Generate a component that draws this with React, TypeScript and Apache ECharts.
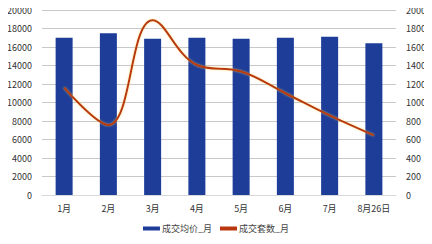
import React, { useEffect, useRef } from "react";
import * as echarts from "echarts";

const categories = ["1月", "2月", "3月", "4月", "5月", "6月", "7月", "8月26日"];
const avgPrice = [17000, 17500, 16900, 17000, 16900, 17000, 17100, 16400];
const dealCount = [1160, 757, 1890, 1405, 1335, 1100, 860, 645];
const leftTicks = { min: 0, max: 20000, interval: 2000 };
const rightTicks = { min: 0, max: 2000, interval: 200 };

export default function App() {
  const ref = useRef<HTMLDivElement>(null);
  useEffect(() => {
    if (!ref.current) return;
    const chart = echarts.init(ref.current, null, { renderer: "svg" });
    const font = "'Noto Sans CJK SC', 'Noto Sans', sans-serif";
    const plain = (v: number) => String(v);
    chart.setOption({
      animation: false,
      grid: { left: 42, right: 36, top: 10, bottom: 49 },
      legend: {
        bottom: 6,
        left: "center",
        itemWidth: 17,
        itemHeight: 4,
        itemGap: 8,
        icon: "rect",
        textStyle: { fontSize: 9, color: "#444", fontFamily: font, padding: [0, 0, 0, -3] },
        data: ["成交均价_月", "成交套数_月"],
      },
      xAxis: {
        type: "category",
        data: categories,
        axisTick: { show: false },
        axisLine: { lineStyle: { color: "#d9d9d9" } },
        axisLabel: { fontSize: 9, color: "#333", margin: 9, fontFamily: font },
      },
      yAxis: [
        {
          type: "value",
          ...leftTicks,
          axisLabel: { fontSize: 9, color: "#333", margin: 10, fontFamily: font, formatter: plain },
          splitLine: { lineStyle: { color: "#c8c8c8" } },
          axisLine: { show: false },
          axisTick: { show: false },
        },
        {
          type: "value",
          ...rightTicks,
          axisLabel: { fontSize: 9, color: "#333", margin: 10, fontFamily: font, formatter: plain },
          splitLine: { show: false },
          axisLine: { show: false },
          axisTick: { show: false },
        },
      ],
      series: [
        {
          name: "成交均价_月",
          type: "bar",
          data: avgPrice,
          barWidth: 17,
          itemStyle: { color: "#1d3d98" },
        },
        {
          name: "成交套数_月",
          type: "line",
          yAxisIndex: 1,
          data: dealCount,
          smooth: 0.4,
          symbol: "none",
          lineStyle: {
            color: "#b9370f",
            width: 2,
            shadowColor: "rgba(255,200,80,0.6)",
            shadowBlur: 2,
          },
          itemStyle: { color: "#b9370f" },
        },
      ],
    });
    return () => chart.dispose();
  }, []);
  return <div ref={ref} style={{ width: 432, height: 244, margin: -8 }} />;
}
